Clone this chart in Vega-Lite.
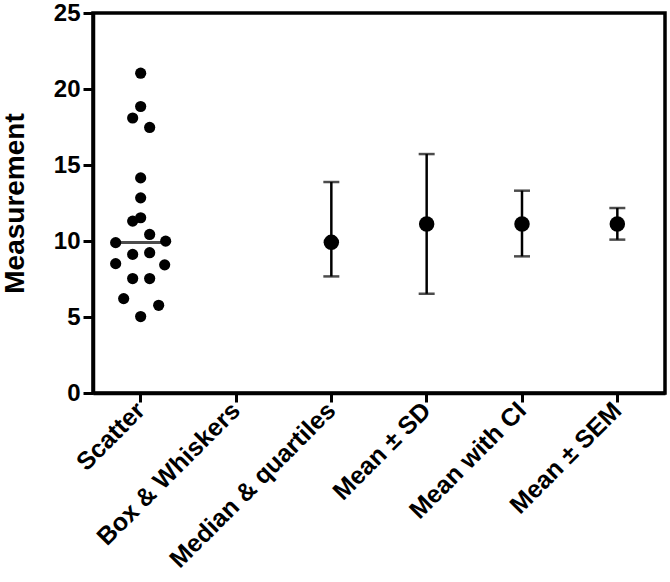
{
  "$schema": "https://vega.github.io/schema/vega-lite/v6.json",
  "autosize": {"type": "none"},
  "padding": {"left": 93, "top": 13, "right": 5, "bottom": 189},
  "width": 572,
  "height": 380,
  "background": "white",
  "config": {
    "view": {"stroke": "black", "strokeWidth": 3.5},
    "font": "Liberation Sans",
    "axis": {
      "labelFont": "Liberation Sans",
      "titleFont": "Liberation Sans",
      "labelFontWeight": "bold",
      "titleFontWeight": "bold",
      "labelColor": "black",
      "titleColor": "black",
      "domainColor": "black",
      "tickColor": "black",
      "domainWidth": 3.5,
      "tickWidth": 3,
      "grid": false
    }
  },
  "datasets": {
    "scatter": [
      {"group": "Scatter", "value": 21.04, "dx": 0},
      {"group": "Scatter", "value": 18.85, "dx": 0},
      {"group": "Scatter", "value": 18.09, "dx": -8},
      {"group": "Scatter", "value": 17.47, "dx": 9},
      {"group": "Scatter", "value": 14.15, "dx": 0},
      {"group": "Scatter", "value": 12.84, "dx": 0},
      {"group": "Scatter", "value": 11.53, "dx": 0},
      {"group": "Scatter", "value": 11.31, "dx": -8},
      {"group": "Scatter", "value": 10.43, "dx": 9},
      {"group": "Scatter", "value": 9.89, "dx": -25},
      {"group": "Scatter", "value": 9.99, "dx": 25},
      {"group": "Scatter", "value": 9.12, "dx": -8},
      {"group": "Scatter", "value": 9.23, "dx": 9},
      {"group": "Scatter", "value": 8.51, "dx": -25},
      {"group": "Scatter", "value": 8.43, "dx": 24},
      {"group": "Scatter", "value": 7.53, "dx": -8},
      {"group": "Scatter", "value": 7.53, "dx": 9},
      {"group": "Scatter", "value": 6.21, "dx": -17},
      {"group": "Scatter", "value": 5.77, "dx": 18},
      {"group": "Scatter", "value": 5.03, "dx": 0}
    ],
    "median": [
      {"group": "Scatter", "value": 9.9}
    ],
    "summary": [
      {"group": "Median & quartiles", "center": 9.91, "lo": 7.67, "hi": 13.88},
      {"group": "Mean ± SD", "center": 11.12, "lo": 6.53, "hi": 15.72},
      {"group": "Mean with CI", "center": 11.12, "lo": 8.99, "hi": 13.31},
      {"group": "Mean ± SEM", "center": 11.12, "lo": 10.09, "hi": 12.17}
    ]
  },
  "encoding": {
    "x": {
      "field": "group",
      "type": "nominal",
      "sort": null,
      "scale": {
        "type": "band",
        "domain": ["Scatter", "Box & Whiskers", "Median & quartiles", "Mean ± SD", "Mean with CI", "Mean ± SEM"],
        "paddingInner": 0,
        "paddingOuter": 0
      },
      "axis": {
        "title": null,
        "labelAngle": -45,
        "labelFontSize": 25,
        "labelAlign": "right",
        "labelBaseline": "middle",
        "labelPadding": 4,
        "tickSize": 9,
        "labelLimit": 400
      }
    }
  },
  "layer": [
    {
      "data": {"name": "scatter"},
      "mark": {"type": "circle", "color": "black", "opacity": 1, "size": 125},
      "encoding": {
        "y": {
          "field": "value",
          "type": "quantitative",
          "scale": {"domain": [0, 25], "nice": false, "zero": true},
          "axis": {
            "title": "Measurement",
            "titleFontSize": 28,
            "titleAngle": -90,
            "titleX": -70,
            "titleY": 190,
            "titleAlign": "center",
            "titleBaseline": "alphabetic",
            "labelFontSize": 24,
            "labelPadding": 3,
            "tickSize": 10,
            "values": [0, 5, 10, 15, 20, 25]
          }
        },
        "xOffset": {
          "field": "dx",
          "type": "quantitative",
          "scale": {"domain": [-47.67, 47.67]}
        }
      }
    },
    {
      "data": {"name": "median"},
      "mark": {"type": "tick", "color": "black", "size": 58, "thickness": 3, "orient": "horizontal"},
      "encoding": {
        "y": {"field": "value", "type": "quantitative"}
      }
    },
    {
      "data": {"name": "summary"},
      "mark": {"type": "rule", "color": "black", "strokeWidth": 2.5},
      "encoding": {
        "y": {"field": "lo", "type": "quantitative"},
        "y2": {"field": "hi"}
      }
    },
    {
      "data": {"name": "summary"},
      "mark": {"type": "tick", "color": "black", "size": 16, "thickness": 2.5, "orient": "horizontal"},
      "encoding": {
        "y": {"field": "lo", "type": "quantitative"}
      }
    },
    {
      "data": {"name": "summary"},
      "mark": {"type": "tick", "color": "black", "size": 16, "thickness": 2.5, "orient": "horizontal"},
      "encoding": {
        "y": {"field": "hi", "type": "quantitative"}
      }
    },
    {
      "data": {"name": "summary"},
      "mark": {"type": "circle", "color": "black", "opacity": 1, "size": 240},
      "encoding": {
        "y": {"field": "center", "type": "quantitative"}
      }
    }
  ]
}
